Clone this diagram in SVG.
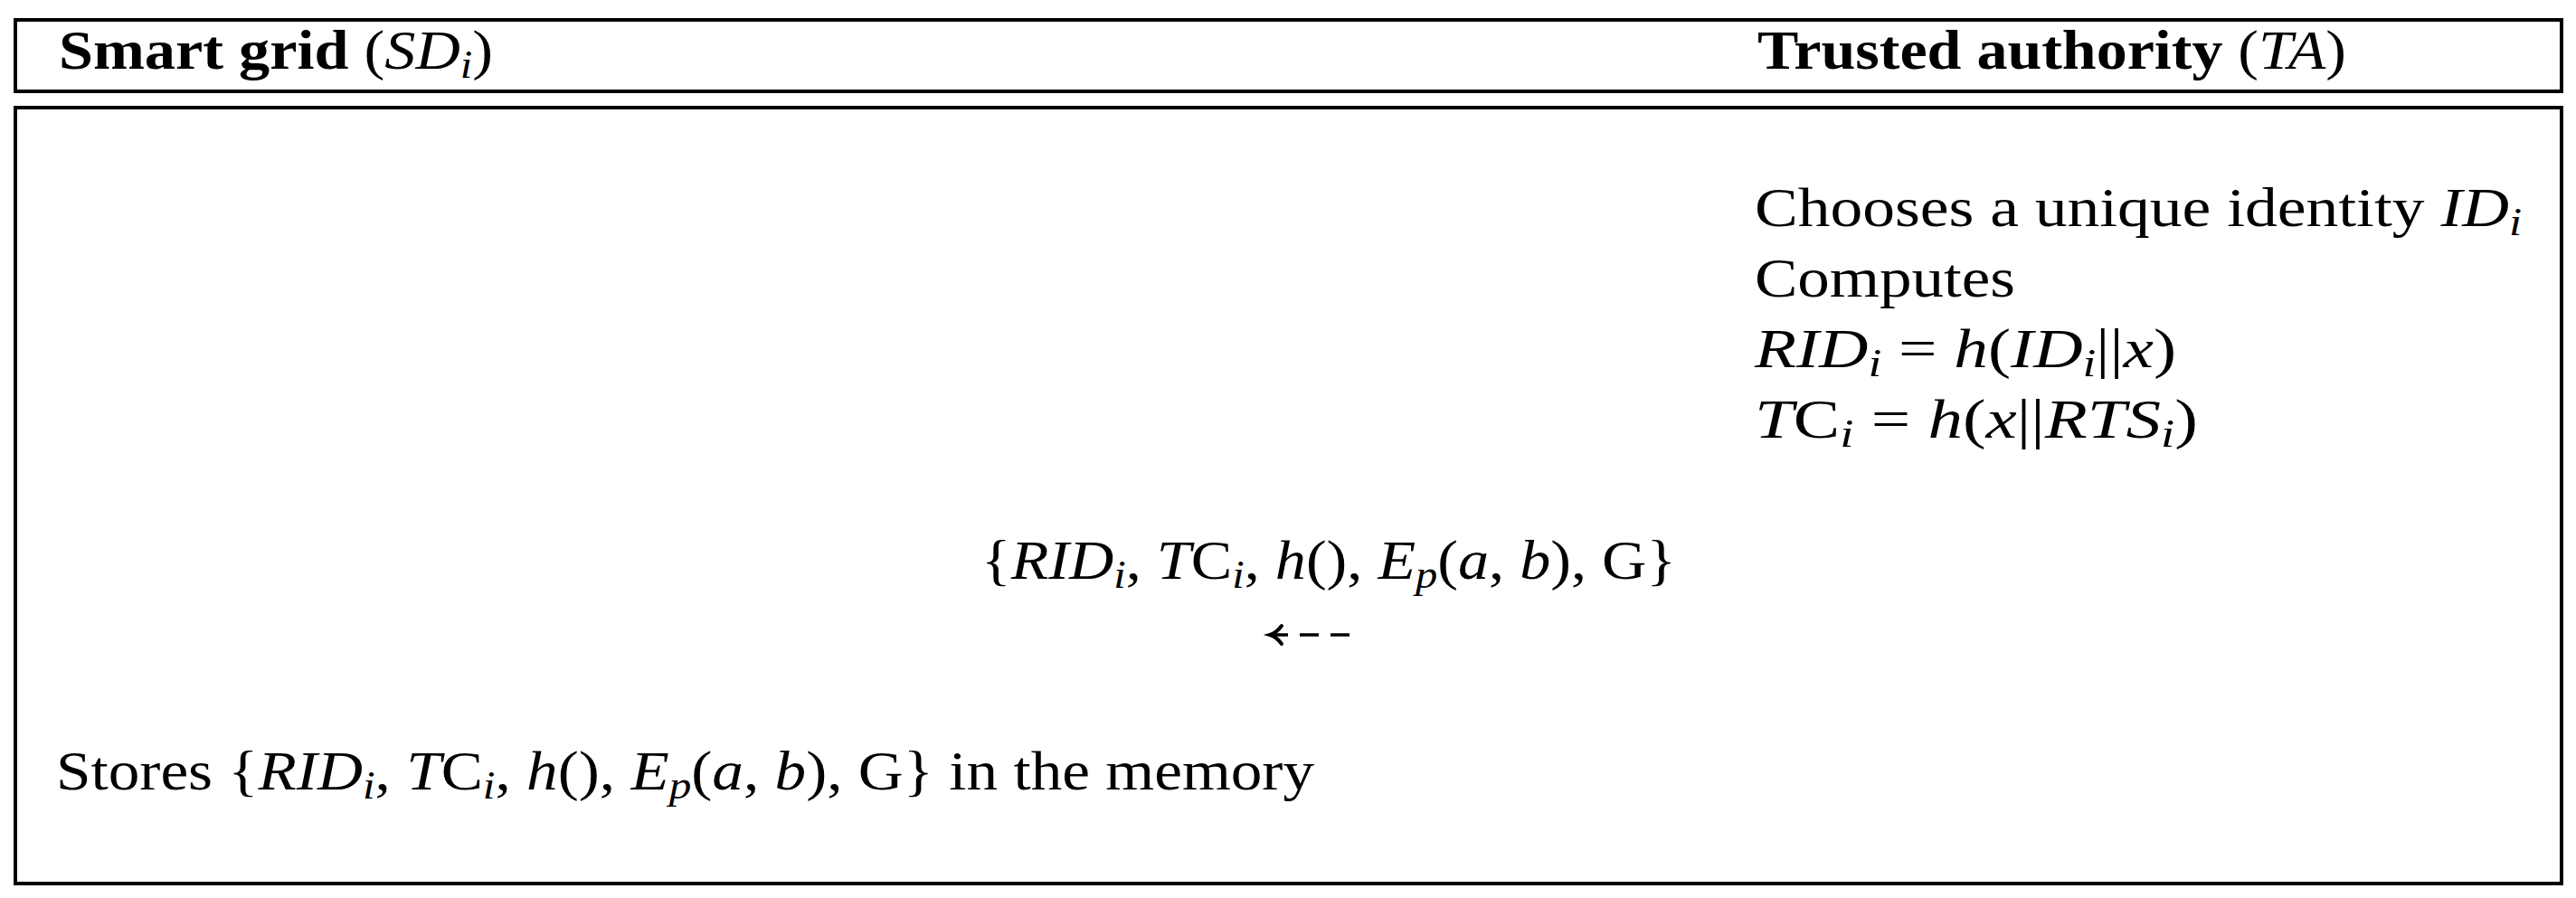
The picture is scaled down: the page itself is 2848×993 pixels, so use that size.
<svg xmlns="http://www.w3.org/2000/svg" width="2848" height="993" viewBox="0 0 2848 993">
<style>
text{font-family:"Liberation Serif","DejaVu Serif",serif;font-size:62px;fill:#000}
.b{font-weight:bold}
.i{font-style:italic}
.s{font-size:44px;font-style:italic}
.box{fill:#fff;stroke:#000;stroke-width:4}
.conn{fill:none;stroke:#000;stroke-width:3.5}
</style>
<defs>
<marker id="ah" markerUnits="userSpaceOnUse" markerWidth="30" markerHeight="30" viewBox="-20 -15 30 30" refX="0" refY="0" orient="auto" overflow="visible">
<path d="M-13,-10 Q-7,-2 0,0 Q-7,2 -13,10" fill="none" stroke="#000" stroke-width="4" stroke-linecap="round"/>
</marker>
</defs>
<rect width="2848" height="993" fill="#fff"/>
<g id="header">
<rect class="box" x="17" y="22" width="2815" height="79"/>
<text x="65" y="76" textLength="480" lengthAdjust="spacingAndGlyphs"><tspan class="b">Smart grid </tspan>(<tspan class="i">SD</tspan><tspan class="s" dy="10">i</tspan><tspan dy="-10">)</tspan></text>
<text x="1943" y="76" textLength="651" lengthAdjust="spacingAndGlyphs"><tspan class="b">Trusted authority </tspan>(<tspan class="i">TA</tspan>)</text>
</g>
<g id="body">
<rect class="box" x="17" y="119" width="2815" height="858"/>
</g>
<g id="ta">
<text x="1940" y="250" textLength="848" lengthAdjust="spacingAndGlyphs">Chooses a unique identity <tspan class="i">ID</tspan><tspan class="s" dy="10">i</tspan></text>
<text x="1940" y="328" textLength="288" lengthAdjust="spacingAndGlyphs">Computes</text>
<text x="1940" y="406" textLength="466" lengthAdjust="spacingAndGlyphs"><tspan class="i">RID</tspan><tspan class="s" dy="10">i</tspan><tspan dy="-10"> = </tspan><tspan class="i">h</tspan>(<tspan class="i">ID</tspan><tspan class="s" dy="10">i</tspan><tspan dy="-10">||</tspan><tspan class="i">x</tspan>)</text>
<text x="1940" y="484" textLength="490" lengthAdjust="spacingAndGlyphs"><tspan class="i">T</tspan>C<tspan class="s" dy="10">i</tspan><tspan dy="-10"> = </tspan><tspan class="i">h</tspan>(<tspan class="i">x</tspan>||<tspan class="i">RTS</tspan><tspan class="s" dy="10">i</tspan><tspan dy="-10">)</tspan></text>
</g>
<g id="message">
<text x="1085" y="640" textLength="768" lengthAdjust="spacingAndGlyphs">{<tspan class="i">RID</tspan><tspan class="s" dy="10">i</tspan><tspan dy="-10">, </tspan><tspan class="i">T</tspan>C<tspan class="s" dy="10">i</tspan><tspan dy="-10">, </tspan><tspan class="i">h</tspan>(), <tspan class="i">E</tspan><tspan class="s" dy="10">p</tspan><tspan dy="-10">(</tspan><tspan class="i">a</tspan>, <tspan class="i">b</tspan>), G}</text>
</g>
<g id="connectors">
<path class="conn" d="M1492,702 H1404" stroke-dasharray="21 13" marker-end="url(#ah)"/>
</g>
<g id="sd">
<text x="62" y="873" textLength="1391" lengthAdjust="spacingAndGlyphs">Stores {<tspan class="i">RID</tspan><tspan class="s" dy="10">i</tspan><tspan dy="-10">, </tspan><tspan class="i">T</tspan>C<tspan class="s" dy="10">i</tspan><tspan dy="-10">, </tspan><tspan class="i">h</tspan>(), <tspan class="i">E</tspan><tspan class="s" dy="10">p</tspan><tspan dy="-10">(</tspan><tspan class="i">a</tspan>, <tspan class="i">b</tspan>), G} in the memory</text>
</g>
</svg>
